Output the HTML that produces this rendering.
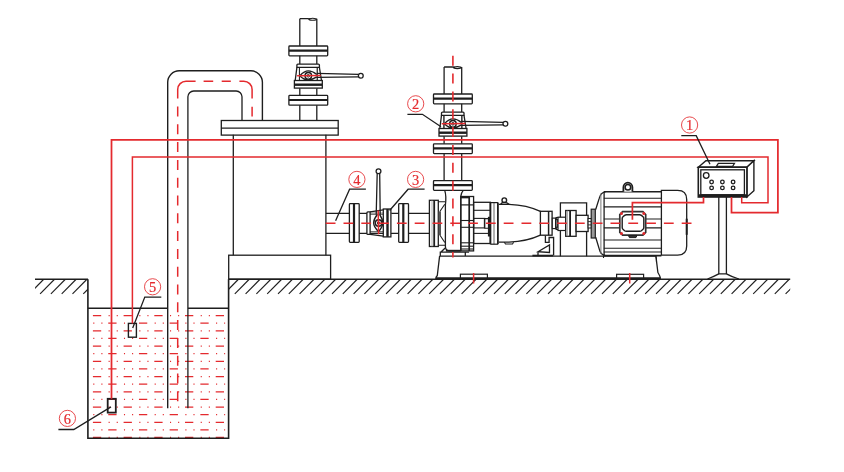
<!DOCTYPE html>
<html><head><meta charset="utf-8"><style>
html,body{margin:0;padding:0;background:#fff;}
svg{display:block;} text{will-change:transform;}
</style></head><body>
<svg width="844" height="472" viewBox="0 0 844 472" stroke-linecap="butt">
<rect width="844" height="472" fill="#fff"/>
<line x1="35.00" y1="279.30" x2="88.00" y2="279.30" stroke="#1e1e1e" stroke-width="1.5" />
<clipPath id="cl"><rect x="35" y="279" width="53" height="16"/></clipPath>
<g clip-path="url(#cl)">
<line x1="32.70" y1="279.50" x2="18.50" y2="293.90" stroke="#1e1e1e" stroke-width="1.1" />
<line x1="43.50" y1="279.50" x2="29.30" y2="293.90" stroke="#1e1e1e" stroke-width="1.1" />
<line x1="54.30" y1="279.50" x2="40.10" y2="293.90" stroke="#1e1e1e" stroke-width="1.1" />
<line x1="65.10" y1="279.50" x2="50.90" y2="293.90" stroke="#1e1e1e" stroke-width="1.1" />
<line x1="75.90" y1="279.50" x2="61.70" y2="293.90" stroke="#1e1e1e" stroke-width="1.1" />
<line x1="86.70" y1="279.50" x2="72.50" y2="293.90" stroke="#1e1e1e" stroke-width="1.1" />
<line x1="97.50" y1="279.50" x2="83.30" y2="293.90" stroke="#1e1e1e" stroke-width="1.1" />
</g>
<line x1="228.90" y1="279.20" x2="790.20" y2="279.20" stroke="#1e1e1e" stroke-width="1.5" />
<clipPath id="cr"><rect x="228.9" y="279" width="561.3" height="16"/></clipPath>
<g clip-path="url(#cr)">
<line x1="227.40" y1="279.50" x2="213.20" y2="293.90" stroke="#1e1e1e" stroke-width="1.1" />
<line x1="238.20" y1="279.50" x2="224.00" y2="293.90" stroke="#1e1e1e" stroke-width="1.1" />
<line x1="249.00" y1="279.50" x2="234.80" y2="293.90" stroke="#1e1e1e" stroke-width="1.1" />
<line x1="259.80" y1="279.50" x2="245.60" y2="293.90" stroke="#1e1e1e" stroke-width="1.1" />
<line x1="270.60" y1="279.50" x2="256.40" y2="293.90" stroke="#1e1e1e" stroke-width="1.1" />
<line x1="281.40" y1="279.50" x2="267.20" y2="293.90" stroke="#1e1e1e" stroke-width="1.1" />
<line x1="292.20" y1="279.50" x2="278.00" y2="293.90" stroke="#1e1e1e" stroke-width="1.1" />
<line x1="303.00" y1="279.50" x2="288.80" y2="293.90" stroke="#1e1e1e" stroke-width="1.1" />
<line x1="313.80" y1="279.50" x2="299.60" y2="293.90" stroke="#1e1e1e" stroke-width="1.1" />
<line x1="324.60" y1="279.50" x2="310.40" y2="293.90" stroke="#1e1e1e" stroke-width="1.1" />
<line x1="335.40" y1="279.50" x2="321.20" y2="293.90" stroke="#1e1e1e" stroke-width="1.1" />
<line x1="346.20" y1="279.50" x2="332.00" y2="293.90" stroke="#1e1e1e" stroke-width="1.1" />
<line x1="357.00" y1="279.50" x2="342.80" y2="293.90" stroke="#1e1e1e" stroke-width="1.1" />
<line x1="367.80" y1="279.50" x2="353.60" y2="293.90" stroke="#1e1e1e" stroke-width="1.1" />
<line x1="378.60" y1="279.50" x2="364.40" y2="293.90" stroke="#1e1e1e" stroke-width="1.1" />
<line x1="389.40" y1="279.50" x2="375.20" y2="293.90" stroke="#1e1e1e" stroke-width="1.1" />
<line x1="400.20" y1="279.50" x2="386.00" y2="293.90" stroke="#1e1e1e" stroke-width="1.1" />
<line x1="411.00" y1="279.50" x2="396.80" y2="293.90" stroke="#1e1e1e" stroke-width="1.1" />
<line x1="421.80" y1="279.50" x2="407.60" y2="293.90" stroke="#1e1e1e" stroke-width="1.1" />
<line x1="432.60" y1="279.50" x2="418.40" y2="293.90" stroke="#1e1e1e" stroke-width="1.1" />
<line x1="443.40" y1="279.50" x2="429.20" y2="293.90" stroke="#1e1e1e" stroke-width="1.1" />
<line x1="454.20" y1="279.50" x2="440.00" y2="293.90" stroke="#1e1e1e" stroke-width="1.1" />
<line x1="465.00" y1="279.50" x2="450.80" y2="293.90" stroke="#1e1e1e" stroke-width="1.1" />
<line x1="475.80" y1="279.50" x2="461.60" y2="293.90" stroke="#1e1e1e" stroke-width="1.1" />
<line x1="486.60" y1="279.50" x2="472.40" y2="293.90" stroke="#1e1e1e" stroke-width="1.1" />
<line x1="497.40" y1="279.50" x2="483.20" y2="293.90" stroke="#1e1e1e" stroke-width="1.1" />
<line x1="508.20" y1="279.50" x2="494.00" y2="293.90" stroke="#1e1e1e" stroke-width="1.1" />
<line x1="519.00" y1="279.50" x2="504.80" y2="293.90" stroke="#1e1e1e" stroke-width="1.1" />
<line x1="529.80" y1="279.50" x2="515.60" y2="293.90" stroke="#1e1e1e" stroke-width="1.1" />
<line x1="540.60" y1="279.50" x2="526.40" y2="293.90" stroke="#1e1e1e" stroke-width="1.1" />
<line x1="551.40" y1="279.50" x2="537.20" y2="293.90" stroke="#1e1e1e" stroke-width="1.1" />
<line x1="562.20" y1="279.50" x2="548.00" y2="293.90" stroke="#1e1e1e" stroke-width="1.1" />
<line x1="573.00" y1="279.50" x2="558.80" y2="293.90" stroke="#1e1e1e" stroke-width="1.1" />
<line x1="583.80" y1="279.50" x2="569.60" y2="293.90" stroke="#1e1e1e" stroke-width="1.1" />
<line x1="594.60" y1="279.50" x2="580.40" y2="293.90" stroke="#1e1e1e" stroke-width="1.1" />
<line x1="605.40" y1="279.50" x2="591.20" y2="293.90" stroke="#1e1e1e" stroke-width="1.1" />
<line x1="616.20" y1="279.50" x2="602.00" y2="293.90" stroke="#1e1e1e" stroke-width="1.1" />
<line x1="627.00" y1="279.50" x2="612.80" y2="293.90" stroke="#1e1e1e" stroke-width="1.1" />
<line x1="637.80" y1="279.50" x2="623.60" y2="293.90" stroke="#1e1e1e" stroke-width="1.1" />
<line x1="648.60" y1="279.50" x2="634.40" y2="293.90" stroke="#1e1e1e" stroke-width="1.1" />
<line x1="659.40" y1="279.50" x2="645.20" y2="293.90" stroke="#1e1e1e" stroke-width="1.1" />
<line x1="670.20" y1="279.50" x2="656.00" y2="293.90" stroke="#1e1e1e" stroke-width="1.1" />
<line x1="681.00" y1="279.50" x2="666.80" y2="293.90" stroke="#1e1e1e" stroke-width="1.1" />
<line x1="691.80" y1="279.50" x2="677.60" y2="293.90" stroke="#1e1e1e" stroke-width="1.1" />
<line x1="702.60" y1="279.50" x2="688.40" y2="293.90" stroke="#1e1e1e" stroke-width="1.1" />
<line x1="713.40" y1="279.50" x2="699.20" y2="293.90" stroke="#1e1e1e" stroke-width="1.1" />
<line x1="724.20" y1="279.50" x2="710.00" y2="293.90" stroke="#1e1e1e" stroke-width="1.1" />
<line x1="735.00" y1="279.50" x2="720.80" y2="293.90" stroke="#1e1e1e" stroke-width="1.1" />
<line x1="745.80" y1="279.50" x2="731.60" y2="293.90" stroke="#1e1e1e" stroke-width="1.1" />
<line x1="756.60" y1="279.50" x2="742.40" y2="293.90" stroke="#1e1e1e" stroke-width="1.1" />
<line x1="767.40" y1="279.50" x2="753.20" y2="293.90" stroke="#1e1e1e" stroke-width="1.1" />
<line x1="778.20" y1="279.50" x2="764.00" y2="293.90" stroke="#1e1e1e" stroke-width="1.1" />
<line x1="789.00" y1="279.50" x2="774.80" y2="293.90" stroke="#1e1e1e" stroke-width="1.1" />
<line x1="799.80" y1="279.50" x2="785.60" y2="293.90" stroke="#1e1e1e" stroke-width="1.1" />
<line x1="810.60" y1="279.50" x2="796.40" y2="293.90" stroke="#1e1e1e" stroke-width="1.1" />
</g>
<clipPath id="cw"><rect x="92" y="310" width="133.5" height="130"/></clipPath>
<g clip-path="url(#cw)" stroke="#e42a2e" stroke-width="1.3">
<line x1="92.9" y1="315.60" x2="226" y2="315.60" stroke-dasharray="8.3 7.4 1.1 7 1.1 5.8" stroke-dashoffset="0"/>
<line x1="92.9" y1="323.22" x2="226" y2="323.22" stroke-dasharray="8.3 7.4 1.1 7 1.1 5.8" stroke-dashoffset="15.35"/>
<line x1="92.9" y1="330.84" x2="226" y2="330.84" stroke-dasharray="8.3 7.4 1.1 7 1.1 5.8" stroke-dashoffset="0"/>
<line x1="92.9" y1="338.46" x2="226" y2="338.46" stroke-dasharray="8.3 7.4 1.1 7 1.1 5.8" stroke-dashoffset="15.35"/>
<line x1="92.9" y1="346.08" x2="226" y2="346.08" stroke-dasharray="8.3 7.4 1.1 7 1.1 5.8" stroke-dashoffset="0"/>
<line x1="92.9" y1="353.70" x2="226" y2="353.70" stroke-dasharray="8.3 7.4 1.1 7 1.1 5.8" stroke-dashoffset="15.35"/>
<line x1="92.9" y1="361.32" x2="226" y2="361.32" stroke-dasharray="8.3 7.4 1.1 7 1.1 5.8" stroke-dashoffset="0"/>
<line x1="92.9" y1="368.94" x2="226" y2="368.94" stroke-dasharray="8.3 7.4 1.1 7 1.1 5.8" stroke-dashoffset="15.35"/>
<line x1="92.9" y1="376.56" x2="226" y2="376.56" stroke-dasharray="8.3 7.4 1.1 7 1.1 5.8" stroke-dashoffset="0"/>
<line x1="92.9" y1="384.18" x2="226" y2="384.18" stroke-dasharray="8.3 7.4 1.1 7 1.1 5.8" stroke-dashoffset="15.35"/>
<line x1="92.9" y1="391.80" x2="226" y2="391.80" stroke-dasharray="8.3 7.4 1.1 7 1.1 5.8" stroke-dashoffset="0"/>
<line x1="92.9" y1="399.42" x2="226" y2="399.42" stroke-dasharray="8.3 7.4 1.1 7 1.1 5.8" stroke-dashoffset="15.35"/>
<line x1="92.9" y1="407.04" x2="226" y2="407.04" stroke-dasharray="8.3 7.4 1.1 7 1.1 5.8" stroke-dashoffset="0"/>
<line x1="92.9" y1="414.66" x2="226" y2="414.66" stroke-dasharray="8.3 7.4 1.1 7 1.1 5.8" stroke-dashoffset="15.35"/>
<line x1="92.9" y1="422.28" x2="226" y2="422.28" stroke-dasharray="8.3 7.4 1.1 7 1.1 5.8" stroke-dashoffset="0"/>
<line x1="92.9" y1="429.90" x2="226" y2="429.90" stroke-dasharray="8.3 7.4 1.1 7 1.1 5.8" stroke-dashoffset="15.35"/>
<line x1="92.9" y1="437.52" x2="226" y2="437.52" stroke-dasharray="8.3 7.4 1.1 7 1.1 5.8" stroke-dashoffset="0"/>
</g>
<path d="M87.9 279.3 V438.3 H228.6 V279.2" stroke="#1e1e1e" stroke-width="1.6" fill="none" />
<line x1="87.90" y1="308.20" x2="167.60" y2="308.20" stroke="#1e1e1e" stroke-width="1.5" />
<line x1="187.90" y1="308.20" x2="228.60" y2="308.20" stroke="#1e1e1e" stroke-width="1.5" />
<path d="M167.7 408.3 V82.3 A11.5 11.5 0 0 1 179.2 70.8 H250.9 A11.5 11.5 0 0 1 262.4 82.3 V120.5" stroke="#1e1e1e" stroke-width="1.4" fill="none" />
<path d="M187.9 408.3 V96.8 A5.8 5.8 0 0 1 193.7 91 H236.2 A5.8 5.8 0 0 1 242 96.8 V120.5" stroke="#1e1e1e" stroke-width="1.3" fill="none" />
<line x1="177.70" y1="106.50" x2="177.70" y2="401.50" stroke="#e42a2e" stroke-width="1.5" stroke-dasharray="10 7.8"/>
<path d="M177.7 98.6 V89.5 A8.3 8.3 0 0 1 186 81.2 H195.6" stroke="#e42a2e" stroke-width="1.5" fill="none" />
<path d="M203.6 81.2 H213.2 M221.7 81.2 H230.8" stroke="#e42a2e" stroke-width="1.5" fill="none" />
<path d="M239.4 81.2 H243.8 A8.3 8.3 0 0 1 252.1 89.5 V98.6 M252.1 106.7 V116.6" stroke="#e42a2e" stroke-width="1.5" fill="none" />
<rect x="221.30" y="120.50" width="116.90" height="14.60" rx="0" stroke="#1e1e1e" stroke-width="1.3" fill="none" />
<line x1="221.10" y1="128.10" x2="338.20" y2="128.10" stroke="#1e1e1e" stroke-width="1.2" />
<line x1="233.30" y1="134.80" x2="233.30" y2="255.20" stroke="#1e1e1e" stroke-width="1.3" />
<line x1="325.90" y1="134.80" x2="325.90" y2="255.20" stroke="#1e1e1e" stroke-width="1.3" />
<rect x="228.70" y="255.20" width="101.90" height="24.00" rx="0" stroke="#1e1e1e" stroke-width="1.3" fill="none" />
<line x1="299.80" y1="18.70" x2="299.80" y2="120.50" stroke="#1e1e1e" stroke-width="1.3" />
<line x1="316.80" y1="18.70" x2="316.80" y2="120.50" stroke="#1e1e1e" stroke-width="1.3" />
<path d="M299.8 18.7 H307.7 Q309.3 18.7 310.3 19.2" stroke="#1e1e1e" stroke-width="1.3" fill="none" />
<ellipse cx="312.7" cy="19.3" rx="3.8" ry="1.0" stroke="#1e1e1e" stroke-width="1.1" fill="none"/>
<g transform="translate(308.3,75.5)">
<rect x="-19.40" y="-29.50" width="38.80" height="9.80" rx="0.8" stroke="#1e1e1e" stroke-width="1.3" fill="#fff" />
<line x1="-19.40" y1="-24.90" x2="19.40" y2="-24.90" stroke="#1e1e1e" stroke-width="2.2" />
<rect x="-19.40" y="19.90" width="38.80" height="9.80" rx="0.8" stroke="#1e1e1e" stroke-width="1.3" fill="#fff" />
<line x1="-19.40" y1="24.50" x2="19.40" y2="24.50" stroke="#1e1e1e" stroke-width="2.2" />
</g>
<g transform="translate(308.3,75.5)">
<rect x="-8.6" y="-11" width="17.2" height="24" fill="#fff"/>
<path d="M-11.4 -8.2 V-10.4 Q-11.4 -11.4 -10.4 -11.4 H10.1 Q11.1 -11.4 11.1 -10.4 V-8.2 Z" stroke="#1e1e1e" stroke-width="1.3" fill="#fff" />
<path d="M-11.4 -8.2 L-13.1 5 M11.1 -8.2 L13.2 5" stroke="#1e1e1e" stroke-width="1.3" fill="none" />
<line x1="-8.90" y1="-8.20" x2="-8.90" y2="5.00" stroke="#1e1e1e" stroke-width="1.0" />
<line x1="8.90" y1="-8.20" x2="8.90" y2="5.00" stroke="#1e1e1e" stroke-width="1.0" />
<rect x="-13.90" y="5.00" width="27.90" height="7.60" rx="0" stroke="#1e1e1e" stroke-width="1.3" fill="#fff" />
<line x1="-13.90" y1="9.20" x2="14.00" y2="9.20" stroke="#1e1e1e" stroke-width="2.4" />
<path d="M-8.4 0.2 Q-4 -4.6 0 -4.6 Q4 -4.6 8.5 -1 M-8.4 0.4 Q-4 4.4 0 4.4 Q4 4.4 8.5 1.4" stroke="#1e1e1e" stroke-width="1.4" fill="none" />
<circle cx="0.00" cy="0.30" r="3.30" stroke="#1e1e1e" stroke-width="1.4" fill="none" />
<circle cx="0.00" cy="0.30" r="1.30" stroke="#1e1e1e" stroke-width="1.0" fill="none" />
<path d="M8.5 -2.1 L50.2 -1.1 M8.5 1.9 L50.2 1.4" stroke="#1e1e1e" stroke-width="1.3" fill="none" />
<circle cx="52.50" cy="0.20" r="2.40" stroke="#1e1e1e" stroke-width="1.3" fill="#fff" />
<line x1="-11.20" y1="0.30" x2="12.50" y2="-0.10" stroke="#e42a2e" stroke-width="1.5" />
</g>
<line x1="444.10" y1="67.00" x2="444.10" y2="180.20" stroke="#1e1e1e" stroke-width="1.3" />
<line x1="461.70" y1="67.00" x2="461.70" y2="180.20" stroke="#1e1e1e" stroke-width="1.3" />
<path d="M444.09999999999997 67 H452.29999999999995 Q453.9 67 454.9 67.5" stroke="#1e1e1e" stroke-width="1.3" fill="none" />
<ellipse cx="457.29999999999995" cy="67.6" rx="3.8" ry="1.0" stroke="#1e1e1e" stroke-width="1.1" fill="none"/>
<g transform="translate(452.9,123.5)">
<rect x="-19.40" y="-29.50" width="38.80" height="9.80" rx="0.8" stroke="#1e1e1e" stroke-width="1.3" fill="#fff" />
<line x1="-19.40" y1="-24.90" x2="19.40" y2="-24.90" stroke="#1e1e1e" stroke-width="2.2" />
<rect x="-19.40" y="20.30" width="38.80" height="9.80" rx="0.8" stroke="#1e1e1e" stroke-width="1.3" fill="#fff" />
<line x1="-19.40" y1="24.90" x2="19.40" y2="24.90" stroke="#1e1e1e" stroke-width="2.2" />
<rect x="-19.40" y="57.10" width="38.80" height="9.80" rx="0.8" stroke="#1e1e1e" stroke-width="1.3" fill="#fff" />
<line x1="-19.40" y1="61.70" x2="19.40" y2="61.70" stroke="#1e1e1e" stroke-width="2.2" />
</g>
<g transform="translate(452.9,123.5)">
<rect x="-8.6" y="-11" width="17.2" height="24" fill="#fff"/>
<path d="M-11.4 -8.2 V-10.4 Q-11.4 -11.4 -10.4 -11.4 H10.1 Q11.1 -11.4 11.1 -10.4 V-8.2 Z" stroke="#1e1e1e" stroke-width="1.3" fill="#fff" />
<path d="M-11.4 -8.2 L-13.1 5 M11.1 -8.2 L13.2 5" stroke="#1e1e1e" stroke-width="1.3" fill="none" />
<line x1="-8.90" y1="-8.20" x2="-8.90" y2="5.00" stroke="#1e1e1e" stroke-width="1.0" />
<line x1="8.90" y1="-8.20" x2="8.90" y2="5.00" stroke="#1e1e1e" stroke-width="1.0" />
<rect x="-13.90" y="5.00" width="27.90" height="7.60" rx="0" stroke="#1e1e1e" stroke-width="1.3" fill="#fff" />
<line x1="-13.90" y1="9.20" x2="14.00" y2="9.20" stroke="#1e1e1e" stroke-width="2.4" />
<path d="M-8.4 0.2 Q-4 -4.6 0 -4.6 Q4 -4.6 8.5 -1 M-8.4 0.4 Q-4 4.4 0 4.4 Q4 4.4 8.5 1.4" stroke="#1e1e1e" stroke-width="1.4" fill="none" />
<circle cx="0.00" cy="0.30" r="3.30" stroke="#1e1e1e" stroke-width="1.4" fill="none" />
<circle cx="0.00" cy="0.30" r="1.30" stroke="#1e1e1e" stroke-width="1.0" fill="none" />
<path d="M8.5 -2.1 L50.2 -1.1 M8.5 1.9 L50.2 1.4" stroke="#1e1e1e" stroke-width="1.3" fill="none" />
<circle cx="52.50" cy="0.20" r="2.40" stroke="#1e1e1e" stroke-width="1.3" fill="#fff" />
<line x1="-11.20" y1="0.30" x2="12.50" y2="-0.10" stroke="#e42a2e" stroke-width="1.5" />
</g>
<line x1="326.00" y1="213.40" x2="429.50" y2="213.40" stroke="#1e1e1e" stroke-width="1.3" />
<line x1="326.00" y1="233.40" x2="429.50" y2="233.40" stroke="#1e1e1e" stroke-width="1.3" />
<g transform="translate(378.3,223.0) rotate(-90)">
<rect x="-19.40" y="-28.90" width="38.80" height="9.80" rx="0.8" stroke="#1e1e1e" stroke-width="1.3" fill="#fff" />
<line x1="-19.40" y1="-24.30" x2="19.40" y2="-24.30" stroke="#1e1e1e" stroke-width="2.2" />
<rect x="-19.40" y="20.40" width="38.80" height="9.80" rx="0.8" stroke="#1e1e1e" stroke-width="1.3" fill="#fff" />
<line x1="-19.40" y1="25.00" x2="19.40" y2="25.00" stroke="#1e1e1e" stroke-width="2.2" />
<rect x="-10" y="-11" width="20" height="24" fill="#fff"/>
<path d="M-11.4 -8.2 V-10.4 Q-11.4 -11.4 -10.4 -11.4 H10.1 Q11.1 -11.4 11.1 -10.4 V-8.2 Z" stroke="#1e1e1e" stroke-width="1.3" fill="#fff" />
<path d="M-11.4 -8.2 L-13.1 5 M11.1 -8.2 L13.2 5" stroke="#1e1e1e" stroke-width="1.3" fill="none" />
<line x1="-8.90" y1="-8.20" x2="-8.90" y2="5.00" stroke="#1e1e1e" stroke-width="1.0" />
<line x1="8.90" y1="-8.20" x2="8.90" y2="5.00" stroke="#1e1e1e" stroke-width="1.0" />
<rect x="-13.90" y="5.00" width="27.90" height="7.60" rx="0" stroke="#1e1e1e" stroke-width="1.3" fill="#fff" />
<line x1="-13.90" y1="9.20" x2="14.00" y2="9.20" stroke="#1e1e1e" stroke-width="2.4" />
<path d="M-8.4 0.2 Q-4 -4.6 0 -4.6 Q4 -4.6 8.5 -1 M-8.4 0.4 Q-4 4.4 0 4.4 Q4 4.4 8.5 1.4" stroke="#1e1e1e" stroke-width="1.4" fill="none" />
<circle cx="0.00" cy="0.30" r="3.30" stroke="#1e1e1e" stroke-width="1.4" fill="none" />
<circle cx="0.00" cy="0.30" r="1.30" stroke="#1e1e1e" stroke-width="1.0" fill="none" />
<path d="M8.5 -2.1 L49.400000000000006 -1.1 M8.5 1.9 L49.400000000000006 1.4" stroke="#1e1e1e" stroke-width="1.3" fill="none" />
<circle cx="51.70" cy="0.20" r="2.40" stroke="#1e1e1e" stroke-width="1.3" fill="#fff" />
<line x1="-11.20" y1="0.30" x2="12.50" y2="-0.10" stroke="#e42a2e" stroke-width="1.5" />
</g>
<rect x="429.40" y="200.30" width="8.90" height="46.20" rx="0" stroke="#1e1e1e" stroke-width="1.3" fill="none" />
<line x1="432.00" y1="200.30" x2="432.00" y2="246.50" stroke="#999" stroke-width="0.8" />
<line x1="434.20" y1="200.30" x2="434.20" y2="246.50" stroke="#1e1e1e" stroke-width="1.8" />
<path d="M438.3 201.7 H445 M440 211.3 L444.8 204.3 M440 235.3 L444.8 242.5 M438.3 245.3 H445" stroke="#1e1e1e" stroke-width="1.1" fill="none" />
<line x1="439.80" y1="211.30" x2="439.80" y2="235.30" stroke="#555" stroke-width="2.4" />
<path d="M444.8 190.6 Q446.5 196 445.4 205 V246.5 Q445.6 250.9 449.5 250.9 H461" stroke="#1e1e1e" stroke-width="1.3" fill="none" />
<path d="M463.1 190.6 Q461 193 460.8 196.4 V250.9" stroke="#1e1e1e" stroke-width="1.3" fill="none" />
<path d="M440.3 256.1 V252.1 H469.1 M465.3 252.1 V256.1 M440.7 252.3 L445.2 248" stroke="#1e1e1e" stroke-width="1.3" fill="none" />
<line x1="445.90" y1="250.70" x2="460.10" y2="250.70" stroke="#1e1e1e" stroke-width="1.8" />
<rect x="460.80" y="196.50" width="12.80" height="54.40" rx="0" stroke="#1e1e1e" stroke-width="1.3" fill="none" />
<line x1="469.20" y1="196.50" x2="469.20" y2="250.90" stroke="#1e1e1e" stroke-width="1.7" />
<line x1="460.80" y1="197.60" x2="469.20" y2="197.60" stroke="#1e1e1e" stroke-width="1.5" />
<line x1="460.80" y1="204.90" x2="473.60" y2="204.90" stroke="#1e1e1e" stroke-width="1.2" />
<line x1="460.80" y1="220.50" x2="473.60" y2="220.50" stroke="#1e1e1e" stroke-width="1.1" />
<line x1="460.80" y1="227.30" x2="473.60" y2="227.30" stroke="#1e1e1e" stroke-width="1.1" />
<line x1="460.80" y1="242.80" x2="473.60" y2="242.80" stroke="#1e1e1e" stroke-width="1.1" />
<line x1="460.80" y1="246.20" x2="473.60" y2="246.20" stroke="#1e1e1e" stroke-width="1.1" />
<line x1="460.80" y1="249.00" x2="473.60" y2="249.00" stroke="#1e1e1e" stroke-width="1.1" />
<rect x="473.60" y="202.30" width="16.80" height="41.20" rx="0" stroke="#1e1e1e" stroke-width="1.3" fill="none" />
<line x1="473.60" y1="210.30" x2="490.40" y2="210.30" stroke="#1e1e1e" stroke-width="1.1" />
<line x1="473.60" y1="233.40" x2="490.40" y2="233.40" stroke="#1e1e1e" stroke-width="1.1" />
<rect x="473.60" y="218.40" width="11.20" height="9.50" rx="0" stroke="#1e1e1e" stroke-width="1.1" fill="none" />
<path d="M484.4 218.6 H488.6 M484.4 228.3 H488.6 M484.4 218.6 V228.3" stroke="#1e1e1e" stroke-width="1.1" fill="none" />
<line x1="489.00" y1="216.80" x2="489.00" y2="236.50" stroke="#1e1e1e" stroke-width="2.2" />
<line x1="490.40" y1="202.60" x2="490.40" y2="244.20" stroke="#1e1e1e" stroke-width="1.8" />
<line x1="494.00" y1="202.60" x2="494.00" y2="244.20" stroke="#666" stroke-width="1.0" />
<line x1="497.90" y1="202.60" x2="497.90" y2="244.20" stroke="#1e1e1e" stroke-width="1.8" />
<line x1="490.40" y1="202.60" x2="497.90" y2="202.60" stroke="#1e1e1e" stroke-width="1.2" />
<line x1="490.40" y1="244.20" x2="497.90" y2="244.20" stroke="#1e1e1e" stroke-width="1.2" />
<path d="M498.7 204.3 H509 Q527 205 540.4 211.3 M498.7 242.2 H509 Q527 241.5 540.4 235.2" stroke="#1e1e1e" stroke-width="1.3" fill="none" />
<path d="M504.3 242.2 L505.5 244 H512.5 L513.6 242.2" stroke="#1e1e1e" stroke-width="1.1" fill="none" />
<circle cx="504.30" cy="200.20" r="2.30" stroke="#1e1e1e" stroke-width="1.4" fill="none" />
<path d="M500.6 204.3 Q501.5 202.3 504.3 202.3 Q507.1 202.3 509 204.3" stroke="#1e1e1e" stroke-width="1.3" fill="none" />
<rect x="540.40" y="211.30" width="11.70" height="23.90" rx="0" stroke="#1e1e1e" stroke-width="1.3" fill="none" />
<line x1="548.60" y1="211.30" x2="548.60" y2="235.20" stroke="#1e1e1e" stroke-width="1.5" />
<path d="M545.4 235.4 V242.4 H549.1 V237.5 H553.6 V255.5" stroke="#1e1e1e" stroke-width="1.3" fill="#fff" />
<path d="M538 251.7 L549.5 245 V252.5 Z M538 251.7 V255.4" stroke="#1e1e1e" stroke-width="1.3" fill="none" />
<line x1="532.40" y1="255.60" x2="553.00" y2="255.60" stroke="#1e1e1e" stroke-width="1.8" />
<rect x="552.90" y="218.50" width="3.20" height="10.00" rx="0" stroke="#1e1e1e" stroke-width="1.0" fill="none" />
<rect x="556.10" y="217.50" width="5.00" height="12.00" rx="0" stroke="#1e1e1e" stroke-width="1.1" fill="none" />
<path d="M439.6 256.2 H655.9 L657.9 272.5 Q660.2 276 660.5 278.9 M439.6 256.2 L437.3 275.5 Q435.8 277 435.8 279" stroke="#1e1e1e" stroke-width="1.3" fill="none" />
<line x1="435.80" y1="278.20" x2="660.50" y2="278.20" stroke="#1e1e1e" stroke-width="1.8" />
<rect x="460.40" y="274.20" width="27.00" height="4.50" rx="0" stroke="#1e1e1e" stroke-width="1.2" fill="none" />
<rect x="616.60" y="274.30" width="27.00" height="4.50" rx="0" stroke="#1e1e1e" stroke-width="1.2" fill="none" />
<line x1="473.60" y1="273.00" x2="473.60" y2="283.50" stroke="#e42a2e" stroke-width="1.5" />
<line x1="629.70" y1="273.00" x2="629.70" y2="283.50" stroke="#e42a2e" stroke-width="1.5" />
<path d="M560.4 256.2 V202.9 H586.6 V256.2" stroke="#1e1e1e" stroke-width="1.3" fill="none" />
<rect x="552.30" y="218.10" width="3.30" height="10.50" rx="0" stroke="#1e1e1e" stroke-width="1.1" fill="#fff" />
<rect x="555.60" y="219.60" width="2.40" height="7.60" rx="0" stroke="#1e1e1e" stroke-width="1.1" fill="#888" />
<rect x="558.00" y="217.20" width="7.70" height="13.30" rx="0" stroke="#1e1e1e" stroke-width="1.2" fill="#fff" />
<rect x="565.70" y="210.50" width="10.40" height="25.80" rx="0" stroke="#1e1e1e" stroke-width="1.3" fill="#fff" />
<line x1="567.30" y1="210.50" x2="567.30" y2="236.30" stroke="#888" stroke-width="0.8" />
<line x1="570.10" y1="210.50" x2="570.10" y2="236.30" stroke="#1e1e1e" stroke-width="1.8" />
<rect x="576.10" y="215.30" width="12.00" height="16.20" rx="0" stroke="#1e1e1e" stroke-width="1.3" fill="#fff" />
<rect x="588.10" y="218.50" width="3.30" height="9.50" rx="0" stroke="#1e1e1e" stroke-width="1.0" fill="#fff" />
<line x1="588.10" y1="221.60" x2="591.40" y2="221.60" stroke="#1e1e1e" stroke-width="0.9" />
<line x1="588.10" y1="224.90" x2="591.40" y2="224.90" stroke="#1e1e1e" stroke-width="0.9" />
<rect x="591.20" y="209.20" width="4.10" height="28.80" rx="0" stroke="#1e1e1e" stroke-width="1.2" fill="#999" />
<path d="M595.7 209.5 L599.2 198.4 Q600.6 192.3 605.5 191.8 M595.7 237.2 L599.2 248.9 Q600.6 255 605.5 255.6" stroke="#1e1e1e" stroke-width="1.3" fill="none" />
<line x1="600.90" y1="193.50" x2="600.90" y2="254.00" stroke="#777" stroke-width="1.0" />
<line x1="604.10" y1="191.80" x2="604.10" y2="255.60" stroke="#1e1e1e" stroke-width="1.3" />
<line x1="603.80" y1="191.80" x2="661.40" y2="191.80" stroke="#1e1e1e" stroke-width="1.6" />
<line x1="603.80" y1="255.60" x2="661.40" y2="255.60" stroke="#1e1e1e" stroke-width="1.6" />
<line x1="603.80" y1="198.20" x2="661.40" y2="198.20" stroke="#1e1e1e" stroke-width="1.1" />
<line x1="603.80" y1="206.90" x2="661.40" y2="206.90" stroke="#1e1e1e" stroke-width="1.1" />
<line x1="603.80" y1="219.00" x2="661.40" y2="219.00" stroke="#1e1e1e" stroke-width="1.1" />
<line x1="603.80" y1="227.90" x2="661.40" y2="227.90" stroke="#1e1e1e" stroke-width="1.1" />
<line x1="603.80" y1="240.00" x2="661.40" y2="240.00" stroke="#1e1e1e" stroke-width="1.1" />
<line x1="603.80" y1="248.30" x2="661.40" y2="248.30" stroke="#1e1e1e" stroke-width="1.1" />
<line x1="603.80" y1="252.00" x2="661.40" y2="252.00" stroke="#1e1e1e" stroke-width="1.1" />
<path d="M661.4 190.4 H677.6 Q686.7 190.4 686.7 199.5 V246 Q686.7 255.1 677.6 255.1 H661.4 Z" stroke="#1e1e1e" stroke-width="1.3" fill="#fff" />
<line x1="686.70" y1="218.70" x2="686.70" y2="234.80" stroke="#1e1e1e" stroke-width="2.0" />
<path d="M623.4 191.7 V187.2 A4.5 4.5 0 0 1 632.4 187.2 V191.7" stroke="#1e1e1e" stroke-width="1.8" fill="#fff" />
<circle cx="627.90" cy="187.20" r="2.80" stroke="#1e1e1e" stroke-width="1.5" fill="none" />
<path d="M619.8 214.5 L622.6 211.7 H642.9 L645.7 214.5 V232.4 L642.9 235.2 H622.6 L619.8 232.4 Z" stroke="#333" stroke-width="1.7" fill="#fff" />
<path d="M622.2 218.6 Q622.2 217.6 623 216.8 L624.6 215.4 Q625.4 214.8 626.4 214.8 H639.6 Q640.6 214.8 641.4 215.4 L643 216.8 Q643.8 217.6 643.8 218.6 V227.5 Q643.8 228.5 643 229.3 L641.4 230.7 Q640.6 231.3 639.6 231.3 H626.4 Q625.4 231.3 624.6 230.7 L623 229.3 Q622.2 228.5 622.2 227.5 Z" stroke="#1e1e1e" stroke-width="1.4" fill="#fff" />
<circle cx="621.50" cy="213.60" r="1.50" stroke="#e42a2e" stroke-width="0" fill="#e42a2e" />
<circle cx="621.50" cy="233.60" r="1.50" stroke="#e42a2e" stroke-width="0" fill="#e42a2e" />
<circle cx="643.80" cy="213.60" r="1.50" stroke="#e42a2e" stroke-width="0" fill="#e42a2e" />
<circle cx="643.80" cy="233.60" r="1.50" stroke="#e42a2e" stroke-width="0" fill="#e42a2e" />
<path d="M628.4 235.4 H637 L636 237.6 H629.4 Z" stroke="#1e1e1e" stroke-width="1.0" fill="#333" />
<path d="M603.5 255.6 V258 M655.9 256.2 Q656.5 258 656.5 262" stroke="#1e1e1e" stroke-width="1.1" fill="none" />
<path d="M698.3 167.2 L705.9 160.7 H753.9 L746.9 167.2 Z" stroke="#1e1e1e" stroke-width="1.4" fill="#fff" />
<path d="M746.9 167.2 L753.9 160.7 V190.8 L746.9 197 Z" stroke="#1e1e1e" stroke-width="1.4" fill="#fff" />
<rect x="698.30" y="167.20" width="48.60" height="29.80" rx="0" stroke="#1e1e1e" stroke-width="1.6" fill="#fff" />
<rect x="700.80" y="169.80" width="43.60" height="25.00" rx="0" stroke="#1e1e1e" stroke-width="1.3" fill="none" />
<line x1="698.30" y1="195.60" x2="746.90" y2="195.60" stroke="#1e1e1e" stroke-width="2.6" />
<path d="M716.4 166.4 L718.3 163.4 H734.5 L732.6 166.4 Z" stroke="#1e1e1e" stroke-width="1.2" fill="#fff" />
<circle cx="706.20" cy="175.50" r="2.80" stroke="#1e1e1e" stroke-width="1.3" fill="none" />
<circle cx="711.60" cy="182.00" r="1.80" stroke="#1e1e1e" stroke-width="1.3" fill="none" />
<circle cx="711.60" cy="187.90" r="1.80" stroke="#1e1e1e" stroke-width="1.3" fill="none" />
<circle cx="722.40" cy="182.00" r="1.80" stroke="#1e1e1e" stroke-width="1.3" fill="none" />
<circle cx="722.40" cy="187.90" r="1.80" stroke="#1e1e1e" stroke-width="1.3" fill="none" />
<circle cx="733.10" cy="182.00" r="1.80" stroke="#1e1e1e" stroke-width="1.3" fill="none" />
<circle cx="733.10" cy="187.90" r="1.80" stroke="#1e1e1e" stroke-width="1.3" fill="none" />
<line x1="718.80" y1="197.00" x2="718.80" y2="274.00" stroke="#1e1e1e" stroke-width="1.3" />
<line x1="726.40" y1="197.00" x2="726.40" y2="274.00" stroke="#1e1e1e" stroke-width="1.3" />
<path d="M707.5 279 Q714 276.5 718.8 273.9 H726.4 Q731 276.5 738.9 279" stroke="#1e1e1e" stroke-width="1.3" fill="none" />
<rect x="128.40" y="323.40" width="8.00" height="13.80" rx="0" stroke="#1e1e1e" stroke-width="1.4" fill="none" />
<rect x="107.70" y="398.80" width="8.10" height="13.80" rx="0" stroke="#1e1e1e" stroke-width="1.8" fill="none" />
<path d="M111.5 398.8 V139.8 H777.9 V212.6 H731.5 V197" stroke="#e42a2e" stroke-width="1.75" fill="none" stroke-linejoin="miter"/>
<path d="M132.4 323.4 V157.0 H768.0 V202.8 H741.7 V197" stroke="#e42a2e" stroke-width="1.5" fill="none" />
<path d="M632.4 219.7 V202.7 H703.5 V197" stroke="#e42a2e" stroke-width="1.7" fill="none" />
<line x1="325.70" y1="223.20" x2="692.00" y2="223.20" stroke="#e42a2e" stroke-width="1.6" stroke-dasharray="9.8 8"/>
<line x1="452.90" y1="55.70" x2="452.90" y2="257.50" stroke="#e42a2e" stroke-width="1.6" stroke-dasharray="10 7.85"/>
<circle cx="689.60" cy="125.00" r="8.10" stroke="#e42a2e" stroke-width="0.85" fill="none" />
<text x="689.60" y="130.20" font-family="Liberation Serif, serif" font-size="14.4" stroke="#e42a2e" stroke-width="0.2" fill="#e42a2e" text-anchor="middle">1</text>
<path d="M681.3 135.6 H696.2 L710.0 164.2" stroke="#1e1e1e" stroke-width="1.3" fill="none" />
<circle cx="415.70" cy="103.80" r="8.10" stroke="#e42a2e" stroke-width="0.85" fill="none" />
<text x="415.70" y="109.00" font-family="Liberation Serif, serif" font-size="14.4" stroke="#e42a2e" stroke-width="0.2" fill="#e42a2e" text-anchor="middle">2</text>
<path d="M407.4 114.3 H422.4 L441.0 126.7" stroke="#1e1e1e" stroke-width="1.3" fill="none" />
<circle cx="415.60" cy="179.40" r="8.10" stroke="#e42a2e" stroke-width="0.85" fill="none" />
<text x="415.60" y="184.60" font-family="Liberation Serif, serif" font-size="14.4" stroke="#e42a2e" stroke-width="0.2" fill="#e42a2e" text-anchor="middle">3</text>
<path d="M424.6 189.2 H408.1 L389.6 210.5" stroke="#1e1e1e" stroke-width="1.3" fill="none" />
<circle cx="356.90" cy="179.40" r="8.10" stroke="#e42a2e" stroke-width="0.85" fill="none" />
<text x="356.90" y="184.60" font-family="Liberation Serif, serif" font-size="14.4" stroke="#e42a2e" stroke-width="0.2" fill="#e42a2e" text-anchor="middle">4</text>
<path d="M365.9 189.2 H349.6 L335.6 220.7" stroke="#1e1e1e" stroke-width="1.3" fill="none" />
<circle cx="152.60" cy="286.80" r="8.10" stroke="#e42a2e" stroke-width="0.85" fill="none" />
<text x="152.60" y="292.00" font-family="Liberation Serif, serif" font-size="14.4" stroke="#e42a2e" stroke-width="0.2" fill="#e42a2e" text-anchor="middle">5</text>
<path d="M161.3 297.1 H144.8 L132.7 327.9" stroke="#1e1e1e" stroke-width="1.3" fill="none" />
<circle cx="67.40" cy="418.40" r="8.10" stroke="#e42a2e" stroke-width="0.85" fill="none" />
<text x="67.40" y="423.60" font-family="Liberation Serif, serif" font-size="14.4" stroke="#e42a2e" stroke-width="0.2" fill="#e42a2e" text-anchor="middle">6</text>
<path d="M58.4 429.5 H73.8 L111.0 406.9" stroke="#1e1e1e" stroke-width="1.3" fill="none" />
</svg></body></html>
